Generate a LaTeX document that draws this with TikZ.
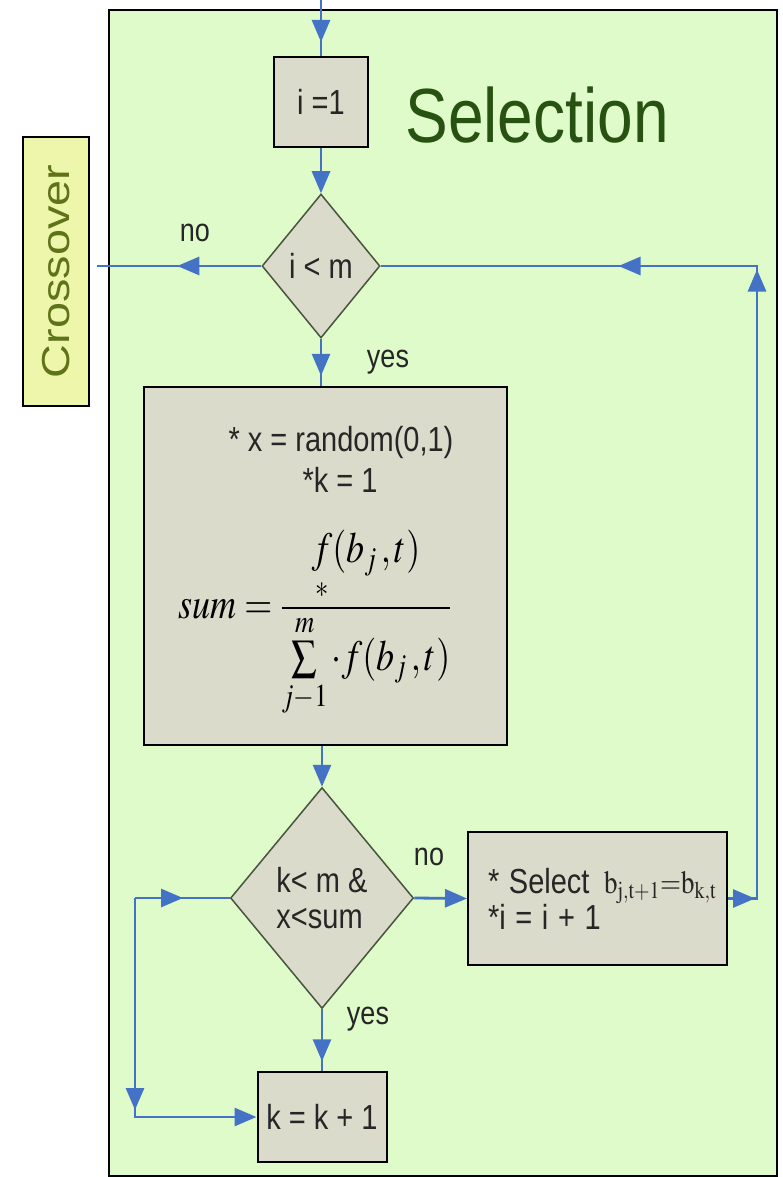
\documentclass[tikz,border=0pt]{standalone}
\usepackage{amsmath}
\usepackage{mathptmx}
\usepackage[no-math]{fontspec}
\setmainfont{Liberation Sans}
\usepackage{graphicx}
\usepackage{xcolor}
\usetikzlibrary{arrows.meta,shapes.geometric,decorations.markings}

\definecolor{panelgreen}{RGB}{223,251,202}
\definecolor{boxgray}{RGB}{219,219,203}
\definecolor{crossyellow}{RGB}{238,246,172}
\definecolor{flowblue}{RGB}{68,114,196}
\definecolor{titlegreen}{RGB}{40,82,18}
\definecolor{crossolive}{RGB}{95,115,25}
\definecolor{rimgray}{RGB}{70,85,60}

% the scanned picture is stretched upright
\newcommand{\tall}[1]{\scalebox{1}[1.2]{#1}}

\begin{document}
\begin{tikzpicture}[x=1pt, y=-1pt,
    box/.style={draw=black, line width=2pt, fill=boxgray, inner sep=0pt},
    dec/.style={diamond, draw=rimgray, line width=1.5pt, fill=boxgray, inner sep=0pt},
    txt/.style={font=\fontsize{29}{36}\selectfont, text=black!85},
    lbl/.style={font=\fontsize{27}{30}\selectfont, text=black!85},
    wire/.style={draw=flowblue, line width=2.8pt},
    tip/.style={-{Triangle[length=22pt,width=18pt]}},
    head/.style={postaction={decorate, decoration={markings,
        mark=at position #1 with {\arrow{Triangle[length=22pt,width=18pt]}}}}}]
    \path[use as bounding box, fill=white] (0,0) rectangle (783,1177);
    % panels
    \node[draw=black, line width=2pt, fill=panelgreen, minimum width=668pt, minimum height=1166pt,
      anchor=north west, inner sep=0pt] (panel) at (108,9) {};
    \node[rotate=90, draw=black, line width=2pt, fill=crossyellow, minimum width=269pt, minimum height=66pt,
      inner sep=0pt, text=crossolive, font=\fontsize{39}{39}\selectfont] (cross) at (56,271.5)
      {\scalebox{1.2}[1]{Crossover}};
    \node[text=titlegreen, font=\fontsize{64}{64}\selectfont] (title) at (537,115) {\tall{Selection}};
    % steps
    \node[box, txt, minimum width=94pt, minimum height=90pt] (init) at (321,102) {\tall{i =1}};
    \node[dec, txt, minimum width=118pt, minimum height=144pt] (testi) at (321,266) {\tall{i < m}};
    \node[box, minimum width=363pt, minimum height=358pt] (calc) at (325.5,566) {};
    \node[txt] (rnd) at (341,442) {\tall{* x = random(0,1)}};
    \node[txt] (kone) at (340,480) {\tall{*k = 1}};
    \node[font=\fontsize{36}{40}\selectfont] (frm) at (315,624)
      {\tall{$\displaystyle sum = \frac{\underset{*}{f}(b_j\,,t)}{\sum\limits_{j-1}^{m}\cdot f(b_j\,,t)}$}};
    \node[dec, txt, align=left, minimum width=183pt, minimum height=221pt] (testk) at (322,898)
      {\tall{k< m \&}\\\tall{x<sum}};
    \node[box, txt, align=left, minimum width=259pt, minimum height=133pt, inner xsep=20pt, text width=219pt]
      (pick) at (597.5,898.5)
      {\tall{* Select\enspace{\fontsize{27}{30}\selectfont$\mathrm{b}_{\mathrm{j,t+1}}{=}\mathrm{b}_{\mathrm{k,t}}$}}\\\tall{*i = i + 1}};
    \node[box, txt, minimum width=129pt, minimum height=90pt] (incr) at (322,1117) {\tall{k = k + 1}};
    % branch labels
    \node[lbl] (no1) at (195,233) {\tall{no}};
    \node[lbl] (yes1) at (388,362) {\tall{yes}};
    \node[lbl] (no2) at (429,857) {\tall{no}};
    \node[lbl] (yes2) at (368,1019) {\tall{yes}};
    % loose ends of the connectors
    \coordinate (entry) at (321,0);
    \coordinate (exit) at (97,266);
    \coordinate (back) at (757,898.5);
    \coordinate (lp) at (135,898);
    % connectors
    \draw[wire, head=42pt] (entry) -- (init.north);
    \draw[wire, tip] (init.south) -- (testi.north);
    \draw[wire, head=37pt] (testi.south) -- (testi.south |- calc.north);
    \draw[wire, head=84pt] (testi.west) -- (exit);
    \draw[wire, tip] (calc.south -| testk.north) -- (testk.north);
    \draw[wire, tip] (testk.east) -- (pick.west);
    \draw[wire, head=52pt] (testk.south) -- (incr.north);
    \draw[wire, head=27pt, head=658pt, head=800pt] (pick.east) -- (back) |- (testi.east);
    \draw[wire, head=48pt] (lp) -- (testk.west);
    \draw[wire, tip, head=212pt] (lp) |- (incr.west);
\end{tikzpicture}
\end{document}
